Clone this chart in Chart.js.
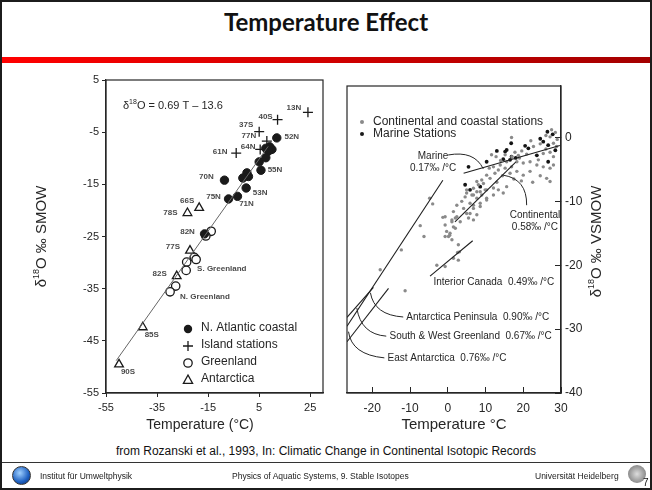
<!DOCTYPE html>
<html>
<head>
<meta charset="utf-8">
<script src="https://cdn.jsdelivr.net/npm/chart.js@4.4.1/dist/chart.umd.min.js"></script>
<style>
  html, body { margin: 0; padding: 0; background: #fff; }
  #slide { position: relative; width: 652px; height: 490px; overflow: hidden; font-family: "Liberation Sans", Arial, sans-serif; color: #111; }
  #frame { position: absolute; left: 0; top: 0; width: 652px; height: 490px; box-sizing: border-box; border: 2px solid #1c1c1c; }
  #title { position: absolute; left: 0; right: 0; top: 7px; text-align: center; font: bold 24px Lato, sans-serif; color: #111; }
  #bar { position: absolute; left: 2px; right: 2px; top: 57px; height: 6px; background: linear-gradient(to right, #ff0000, #a40000); }
  .plot { position: absolute; top: 66px; }
  .plot canvas { filter: blur(0.3px); }
  #leftBox { left: 0; }
  #rightBox { left: 330px; }
  #source { position: absolute; left: 0; right: 0; top: 444px; text-align: center; font-size: 12px; color: #111; }
  #rule { position: absolute; left: 2px; right: 2px; top: 462px; height: 1px; background: #333; }
  .foot { position: absolute; top: 471px; font-size: 8.5px; color: #222; white-space: nowrap; }
  #logoL { position: absolute; left: 12px; top: 466px; width: 17px; height: 17px; border-radius: 50%; background: radial-gradient(circle at 40% 35%, #9fd0ff, #1d5fc0 60%, #0b2c6a); border: 1px solid #333; }
  #logoR { position: absolute; left: 628px; top: 465px; width: 18px; height: 18px; border-radius: 50%; background: radial-gradient(circle, #ddd, #8c8c8c 70%, #555); }
  #page { position: absolute; left: 643px; top: 477px; font-size: 10px; color: #111; }
</style>
</head>
<body>
<div id="slide">
  <div id="title">Temperature Effect</div>
  <div id="bar"></div>
  <div class="plot" id="leftBox"><canvas id="leftChart" width="330" height="372"></canvas></div>
  <div class="plot" id="rightBox"><canvas id="rightChart" width="320" height="372"></canvas></div>
  <div id="source">from Rozanski et al., 1993, In: Climatic Change in Continental Isotopic Records</div>
  <div id="rule"></div>
  <div id="logoL"></div>
  <div class="foot" style="left:40px">Institut für Umweltphysik</div>
  <div class="foot" style="left:232px">Physics of Aquatic Systems, 9. Stable Isotopes</div>
  <div class="foot" style="left:535px">Universität Heidelberg</div>
  <div id="logoR"></div>
  <div id="page">7</div>
  <div id="frame"></div>
</div>
<script>
// ---- left panel: station means (T in °C, δ18O in ‰) ----
const atlT = [11.9, 7.6, 9.1, 10.0, 8.7, 7.6, 5.0, 5.7, 0.2, 0.8, -1.4, -8.6, -0.1, -3.5, -7.0, -16.4];
const atlD = [-6.1, -8.1, -7.8, -8.3, -8.6, -9.9, -10.7, -12.3, -12.8, -13.5, -13.8, -14.2, -15.7, -17.3, -17.8, -24.5];
const islT = [24.1, 12.2, 5.0, 8.0, 5.4, -4.0];
const islD = [-1.2, -2.6, -4.9, -6.7, -8.3, -9.0];
const grnT = [-13.8, -15.9, -20.4, -19.7, -23.4, -23.6, -27.7, -29.9];
const grnD = [-24.0, -24.9, -29.0, -29.4, -29.9, -31.5, -34.5, -35.6];
const antT = [-18.5, -23.1, -22.1, -27.3, -40.6, -49.9];
const antD = [-19.5, -20.5, -27.7, -32.6, -42.4, -49.5];

const fitSlope = 0.69;
const fitIntercept = -13.6;
const fitRange = [-51, 8.5];

const leftXTicks = [-55, -35, -15, 5, 25];
const leftYTicks = [5, -5, -15, -25, -35, -45, -55];

// ---- right panel: individual stations ----
const contT = [16.9, 27.1, 28.0, 28.8, 22.7, 19.6, 17.8, 15.2, 18.7, 20.9, 25.3, 27.1, 28.0, 28.0, 27.1, 25.3, 23.6, 21.8, 20.0, 18.3,
  15.6, 13.9, 15.2, 16.9, 18.3, 16.5, 20.0, 21.8, 26.2, 27.1, 11.6, 12.1, 13.4, 12.5, 10.3, 11.2, 9.0, 7.7, 9.45, 8.1,
  6.8, 9.9, 7.7, 5.0, 6.4, 9.0, 4.6, 7.7, 10.3, 3.7, 5.9, 8.6, 2.4, 4.2, 6.8, 1.5, 5.0, 7.7, 2.4, -0.7,
  1.1, 3.3, 5.5, 6.8, -0.7, 1.5, -0.3, -0.7, 1.1, -4.8, -4.0, -7.3, -6.3, -12.3, -17.9, -1.3, 2.0, 1.1, 0.6, 2.0,
  0.2, 2.8, 3.1, 1.5, 2.8, -2.9, -0.7, 5.0, 6.8, 8.6, 10.3, 12.1, 6.8, 8.6, 10.3, 5.9, 12.1, 13.4, 14.7, 15.6,
  -11.3, 0.5, 2.6, 22.0, 24.5, 26.0, 29.0, 27.5, 24.0, 19.0, 17.0, 14.0, 12.8, 19.5, 22.5, 24.5, 14.5, 17.5, 11.0, 13.0,
  28.5, 26.0];
const contD = [0.0, 0.1, -0.9, -1.4, -1.4, -2.1, -2.3, -2.7, -2.8, -2.6, -2.5, -2.3, -3.0, -4.3, -4.8, -4.6, -4.3, -3.8, -4.0, -3.8,
  -3.8, -4.3, -4.8, -4.6, -5.3, -5.6, -5.9, -5.3, -6.4, -6.9, -2.7, -4.6, -5.1, -5.6, -5.9, -6.4, -6.65, -6.9, -7.2, -7.4,
  -7.95, -8.2, -8.5, -8.7, -9.0, -9.0, -9.3, -9.5, -9.5, -10.0, -10.3, -10.3, -10.6, -11.1, -11.1, -11.6, -11.9, -12.1, -12.4, -12.4,
  -12.9, -13.2, -12.6, -12.9, -13.7, -14.0, -14.7, -15.5, -16.0, -9.5, -10.4, -13.8, -15.5, -17.6, -20.7, -12.5, -12.6, -13.2, -15.0, -14.2,
  -15.5, -16.8, -17.9, -18.9, -19.2, -20.0, -20.2, -8.2, -9.0, -8.5, -8.2, -7.9, -10.6, -10.8, -9.8, -11.9, -9.0, -8.2, -8.7, -7.7,
  -24.0, -15.3, -18.0, -0.5, -1.0, -1.8, -0.3, 1.2, -3.5, -3.2, -3.0, -3.6, -3.0, -6.8, -7.0, -6.0, -6.0, -6.5, -4.8, -7.0,
  0.8, 0.3];
const marT = [26.4, 25.3, 26.6, 21.35, 15.6, 13.0, 16.9, 23.6, 26.6, 16.5, 14.7, 10.3, 5.5, 8.6, 5.9, 27.8, 16.8, 20.5, 15.2, 18.0, 4.6, 24.5, 28.5];
const marD = [0.9, -0.65, -1.2, -1.7, -1.95, -2.1, -3.0, -2.8, -3.8, -3.5, -3.4, -3.8, -4.6, -7.7, -8.2, 0.5, -0.9, -1.3, -2.2, -3.2, -7.4, -0.2, -2.0];

// regression lines: slope (‰/°C), intercept, temperature span
const trendNames = ['Marine', 'Continental', 'Interior Canada', 'Antarctica Peninsula', 'South & West Greenland', 'East Antarctica'];
const trendSlopes = [0.17, 0.58, 0.49, 0.90, 0.67, 0.76];
const trendIntercepts = [-6.3, -14.3, -19.4, -5.53, -10.26, -11.69];
const trendFrom = [4.2, 1.9, -4.7, -26.7, -26.7, -26.7];
const trendTo = [29.7, 18.0, 6.6, -1.3, -19.7, -15.7];

const rightXTicks = [-20, -10, 0, 10, 20, 30];
const rightYTicks = [0, -10, -20, -30, -40];

// ---------------------------------------------------------------
const FONT = '"Liberation Sans", Arial, sans-serif';
const ink = '#262626';
Chart.defaults.font.family = FONT;
Chart.defaults.color = ink;

const zip = (xs, ys) => xs.map((v, i) => ({ x: v, y: ys[i] }));
const seg = (m, b, t0, t1) => [{ x: t0, y: m * t0 + b }, { x: t1, y: m * t1 + b }];
const fixTicks = list => s => { s.ticks = list.map(v => ({ value: v })); };

// text with a raised "18", optionally rotated
function richText(ctx, parts, cx, cy, rot, align) {
  ctx.save();
  ctx.translate(cx, cy);
  ctx.rotate(rot || 0);
  let w = 0;
  parts.forEach(p => { ctx.font = p.f; w += ctx.measureText(p.t).width; });
  let x = align === 'left' ? 0 : -w / 2;
  ctx.textBaseline = 'middle';
  ctx.textAlign = 'left';
  parts.forEach(p => {
    ctx.font = p.f;
    ctx.fillText(p.t, x, p.up ? -p.up : 0);
    x += ctx.measureText(p.t).width;
  });
  ctx.restore();
}

function marker(ctx, kind, x, y) {
  ctx.beginPath();
  if (kind === 'dot') { ctx.arc(x, y, 4.2, 0, Math.PI * 2); ctx.fill(); return; }
  if (kind === 'ring') { ctx.arc(x, y, 4.2, 0, Math.PI * 2); ctx.stroke(); return; }
  if (kind === 'cross') { ctx.moveTo(x - 5, y); ctx.lineTo(x + 5, y); ctx.moveTo(x, y - 5); ctx.lineTo(x, y + 5); ctx.stroke(); return; }
  ctx.moveTo(x, y - 5); ctx.lineTo(x + 4.6, y + 3.4); ctx.lineTo(x - 4.6, y + 3.4); ctx.closePath(); ctx.stroke();
}

// station tags: [text, series, index, dx, dy, align]
const tags = [
  ['13N', 'isl', 0, -14, -5], ['40S', 'isl', 1, -12, -3], ['37S', 'isl', 2, -13, -7], ['77N', 'isl', 3, -18, -5],
  ['64N', 'isl', 4, -12, -3], ['61N', 'isl', 5, -16, -1], ['52N', 'atl', 0, 15, -1], ['55N', 'atl', 7, 14, 0],
  ['70N', 'atl', 11, -18, -3], ['53N', 'atl', 12, 14, 5], ['71N', 'atl', 13, 9, 7], ['75N', 'atl', 14, -15, -2],
  ['82N', 'atl', 15, -17, -2], ['66S', 'ant', 0, -12, -7], ['78S', 'ant', 1, -17, 0], ['77S', 'ant', 2, -17, -4],
  ['82S', 'ant', 3, -17, -2], ['85S', 'ant', 4, 9, 8], ['90S', 'ant', 5, 9, 7],
  ['S. Greenland', 'grn', 3, 1, 9, 'left'], ['N. Greenland', 'grn', 7, 10, 5, 'left']
];
const series = { atl: [atlT, atlD], isl: [islT, islD], grn: [grnT, grnD], ant: [antT, antD] };

const leftDecor = {
  id: 'leftDecor',
  afterDatasetsDraw(chart) {
    const { ctx, chartArea: a, scales: { x, y } } = chart;
    ctx.save();
    ctx.strokeStyle = ink;
    ctx.lineWidth = 1.2;
    ctx.strokeRect(a.left, a.top, a.right - a.left, a.bottom - a.top);

    // station names
    ctx.fillStyle = '#4a4a4a';
    ctx.font = 'bold 8px ' + FONT;
    ctx.textBaseline = 'middle';
    tags.forEach(([txt, s, i, dx, dy, al]) => {
      const px = x.getPixelForValue(series[s][0][i]);
      const py = y.getPixelForValue(series[s][1][i]);
      ctx.textAlign = al || 'center';
      ctx.fillText(txt, px + dx, py + dy);
    });

    // regression equation
    ctx.fillStyle = ink;
    const f = '11px ' + FONT;
    richText(ctx, [{ t: 'δ', f }, { t: '18', f: '7px ' + FONT, up: 4 },
      { t: 'O = ' + fitSlope.toFixed(2) + ' T \u2013 ' + Math.abs(fitIntercept).toFixed(1), f }],
      a.left + 17, a.top + 26, 0, 'left');

    // legend
    const kinds = ['dot', 'cross', 'ring', 'tri'];
    const names = ['N. Atlantic coastal', 'Island stations', 'Greenland', 'Antarctica'];
    ctx.font = '12px ' + FONT;
    ctx.textAlign = 'left';
    kinds.forEach((k, i) => {
      const ly = a.top + 248 + i * 17;
      ctx.fillStyle = '#1a1a1a';
      ctx.strokeStyle = '#1a1a1a';
      ctx.lineWidth = 1.3;
      marker(ctx, k, a.left + 82, ly + 1);
      ctx.fillStyle = ink;
      ctx.fillText(names[i], a.left + 95, ly);
    });

    // axis titles
    richText(ctx, [{ t: 'δ', f: '15px ' + FONT }, { t: '18', f: '9px ' + FONT, up: 5 }, { t: 'O ‰ SMOW', f: '15px ' + FONT }],
      42, (a.top + a.bottom) / 2, -Math.PI / 2);
    ctx.font = '14px ' + FONT;
    ctx.textAlign = 'center';
    ctx.fillText('Temperature (°C)', a.left + 94, a.bottom + 32);
    ctx.restore();
  }
};

new Chart(document.getElementById('leftChart'), {
  type: 'scatter',
  data: {
    datasets: [
      { type: 'line', data: seg(fitSlope, fitIntercept, fitRange[0], fitRange[1]), borderColor: '#666', borderWidth: 1, pointRadius: 0 },
      { data: zip(atlT, atlD), pointStyle: 'circle', pointRadius: 4.2, backgroundColor: '#1a1a1a', borderColor: '#1a1a1a', borderWidth: 1 },
      { data: zip(islT, islD), pointStyle: 'cross', pointRadius: 5, borderColor: '#1a1a1a', borderWidth: 1.3 },
      { data: zip(grnT, grnD), pointStyle: 'circle', pointRadius: 4.2, backgroundColor: '#fff', borderColor: '#1a1a1a', borderWidth: 1.3 },
      { data: zip(antT, antD), pointStyle: 'triangle', pointRadius: 5, backgroundColor: '#fff', borderColor: '#1a1a1a', borderWidth: 1.3 }
    ]
  },
  options: {
    responsive: false,
    animation: false,
    layout: { padding: { left: 0, top: 14, right: 7, bottom: 0 } },
    plugins: { legend: { display: false }, tooltip: { enabled: false } },
    scales: {
      x: {
        type: 'linear', min: -55, max: 30,
        afterBuildTicks: fixTicks(leftXTicks),
        afterFit: s => { s.height = 45; },
        ticks: { font: { size: 11 }, padding: 4, autoSkip: false, maxRotation: 0 },
        grid: { drawOnChartArea: false, tickLength: 4, color: ink },
        border: { color: ink, width: 1.2 }
      },
      y: {
        type: 'linear', min: -55, max: 5,
        afterBuildTicks: fixTicks(leftYTicks),
        afterFit: s => { s.width = 106; },
        ticks: { font: { size: 11 }, padding: 3, autoSkip: false },
        grid: { drawOnChartArea: false, tickLength: 4, color: ink },
        border: { color: ink, width: 1.2 }
      }
    }
  },
  plugins: [leftDecor]
});

// leader curves from each label to its line: [start, control, end] in (T, δ)
const leaders = [
  [[0.1, -2.74], [7.0, -2.0], [9.4, -4.9]],
  [[14.7, -5.9], [21.0, -6.5], [20.9, -10.6]],
  [[-11.8, -28.1], [-19.5, -27.8], [-20.5, -24.3]],
  [[-16.3, -31.1], [-23.0, -30.8], [-24.1, -26.7]],
  [[-16.8, -34.5], [-25.5, -34.0], [-26.3, -30.4]]
];

const rightDecor = {
  id: 'rightDecor',
  afterDatasetsDraw(chart) {
    const { ctx, chartArea: a, scales: { x, y } } = chart;
    const P = (t, d) => [x.getPixelForValue(t), y.getPixelForValue(d)];
    ctx.save();
    ctx.strokeStyle = ink;
    ctx.lineWidth = 1.2;
    ctx.strokeRect(a.left, a.top, a.right - a.left, a.bottom - a.top);

    ctx.lineWidth = 1;
    leaders.forEach(([s, c, e]) => {
      ctx.beginPath();
      ctx.moveTo(...P(...s));
      ctx.quadraticCurveTo(...P(...c), ...P(...e));
      ctx.stroke();
    });

    const rate = i => trendSlopes[i].toFixed(2) + '‰ /°C';
    ctx.fillStyle = ink;
    ctx.font = '10px ' + FONT;
    ctx.textBaseline = 'middle';
    ctx.textAlign = 'center';
    let p = P(-3.9, -2.9); ctx.fillText(trendNames[0], p[0], p[1]);
    p = P(-3.9, -4.8); ctx.fillText(rate(0), p[0], p[1]);
    p = P(23.1, -12.1); ctx.fillText(trendNames[1], p[0], p[1]);
    p = P(23.1, -14.0); ctx.fillText(rate(1), p[0], p[1]);
    ctx.textAlign = 'left';
    [[2, -3.8, -22.66], [3, -11.0, -28.14], [4, -15.43, -31.17], [5, -15.96, -34.55]].forEach(([i, t, d]) => {
      const q = P(t, d);
      ctx.fillText(trendNames[i] + '  ' + rate(i), q[0], q[1]);
    });

    // legend
    ctx.font = '12px ' + FONT;
    [['#8a8a8a', 'Continental and coastal stations'], ['#1a1a1a', 'Marine Stations']].forEach(([c, txt], i) => {
      const ly = a.top + 36 + i * 12;
      ctx.fillStyle = c;
      ctx.beginPath(); ctx.arc(a.left + 15, ly, 2, 0, Math.PI * 2); ctx.fill();
      ctx.fillStyle = ink;
      ctx.fillText(txt, a.left + 26, ly);
    });

    // axis titles
    richText(ctx, [{ t: 'δ', f: '15px ' + FONT }, { t: '18', f: '9px ' + FONT, up: 5 }, { t: 'O ‰ VSMOW', f: '15px ' + FONT }],
      a.right + 36, (a.top + a.bottom) / 2 + 2, -Math.PI / 2);
    ctx.font = '15px ' + FONT;
    ctx.textAlign = 'center';
    ctx.fillText('Temperature °C', (a.left + a.right) / 2, a.bottom + 32);
    ctx.restore();
  }
};

new Chart(document.getElementById('rightChart'), {
  type: 'scatter',
  data: {
    datasets: [
      ...trendSlopes.map((m, i) => ({
        type: 'line', data: seg(m, trendIntercepts[i], trendFrom[i], trendTo[i]),
        borderColor: '#1e1e1e', borderWidth: 1.1, pointRadius: 0
      })),
      { data: zip(contT, contD), pointRadius: 1.7, backgroundColor: '#8a8a8a', borderColor: '#8a8a8a', borderWidth: 0 },
      { data: zip(marT, marD), pointRadius: 1.9, backgroundColor: '#141414', borderColor: '#141414', borderWidth: 0 }
    ]
  },
  options: {
    responsive: false,
    animation: false,
    layout: { padding: { left: 17, top: 20, right: 0, bottom: 0 } },
    plugins: { legend: { display: false }, tooltip: { enabled: false } },
    scales: {
      x: {
        type: 'linear', min: -26.7, max: 30,
        afterBuildTicks: fixTicks(rightXTicks),
        afterFit: s => { s.height = 45; },
        ticks: { font: { size: 12 }, padding: 14, autoSkip: false, maxRotation: 0 },
        grid: { drawOnChartArea: false, tickLength: -6, color: ink },
        border: { color: ink, width: 1.2 }
      },
      y: {
        type: 'linear', position: 'right', min: -40, max: 8.06,
        afterBuildTicks: fixTicks(rightYTicks),
        afterFit: s => { s.width = 89; },
        ticks: { font: { size: 12 }, padding: 10, autoSkip: false },
        grid: { drawOnChartArea: false, tickLength: -6, color: ink },
        border: { color: ink, width: 1.2 }
      }
    }
  },
  plugins: [rightDecor]
});
</script>
</body>
</html>
